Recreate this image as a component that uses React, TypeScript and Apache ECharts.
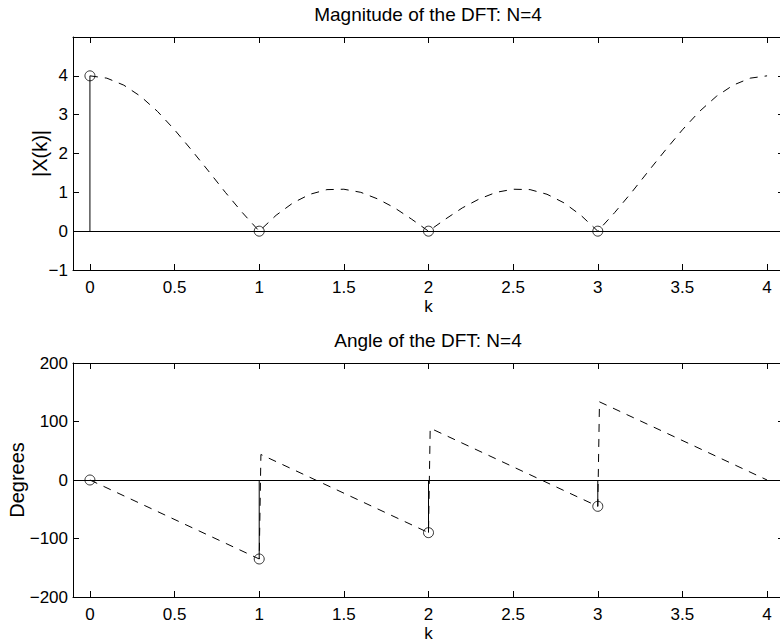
import React, { useEffect, useRef } from "react";
import * as echarts from "echarts";

// Magnitude of the DTFT sampled finely along k
const kFine = [
  0, 0.1, 0.2, 0.3, 0.4, 0.5, 0.6, 0.7, 0.8, 0.9, 1, 1.1, 1.2, 1.3, 1.4, 1.5, 1.6, 1.7, 1.8, 1.9, 2,
  2.1, 2.2, 2.3, 2.4, 2.5, 2.6, 2.7, 2.8, 2.9, 3, 3.1, 3.2, 3.3, 3.4, 3.5, 3.6, 3.7, 3.8, 3.9, 4,
];
const magFine = [
  4, 3.94, 3.76, 3.47, 3.08, 2.61, 2.09, 1.55, 1.0, 0.48, 0, 0.41, 0.73, 0.95, 1.07, 1.08, 1.0, 0.83,
  0.6, 0.31, 0, 0.31, 0.6, 0.83, 1.0, 1.08, 1.07, 0.95, 0.73, 0.41, 0, 0.48, 1.0, 1.55, 2.09, 2.61,
  3.08, 3.47, 3.76, 3.94, 4,
];

// Phase of the DTFT (degrees), piecewise linear with jumps at the integers
const kPhase = [0, 1, 1.01, 2, 2.01, 3, 3.01, 4];
const phaseDeg = [0, -135, 43.6, -90, 88.6, -45, 133.6, 0];

// DFT samples (N = 4)
const kStem = [0, 1, 2, 3];
const magStem = [4, 0, 0, 0];
const angleStem = [0, -135, -90, -45];

// Tick labels
const kTicks = [0, 0.5, 1, 1.5, 2, 2.5, 3, 3.5, 4];
const magTicks = [-1, 0, 1, 2, 3, 4];
const degTicks = [-200, -100, 0, 100, 200];

const FONT = "'Liberation Sans', Arial, Helvetica, sans-serif";
const TICK_FS = 17;
const TITLE_FS = 19;
const YNAME_FS = 20;
const fmt = (v: number) => (v < 0 ? "\u2212" + Math.abs(v) : String(v));

const axisLine = { show: true, onZero: false, lineStyle: { color: "#000", width: 1 } };

function xAxesFor(gridIndex: number) {
  const common = {
    type: "value",
    gridIndex,
    min: -0.1,
    max: 4.1,
    axisLine,
    splitLine: { show: false },
    axisTick: { show: true, inside: true, length: 6, customValues: kTicks, lineStyle: { color: "#000" } },
  };
  return [
    {
      ...common,
      position: "bottom",
      axisLabel: {
        show: true,
        customValues: kTicks,
        formatter: fmt,
        margin: 9,
        color: "#000",
        fontSize: TICK_FS,
        fontFamily: FONT,
      },
      name: "k",
      nameLocation: "middle",
      nameGap: 28,
      nameMoveOverlap: false,
      nameTextStyle: { color: "#000", fontSize: TICK_FS, fontFamily: FONT },
    },
    { ...common, position: "top", axisLabel: { show: false } },
  ];
}

function yAxesFor(gridIndex: number, min: number, max: number, ticks: number[], name: string, nameGap: number) {
  const common = {
    type: "value",
    gridIndex,
    min,
    max,
    axisLine,
    splitLine: { show: false },
    axisTick: { show: true, inside: true, length: 6, customValues: ticks, lineStyle: { color: "#000" } },
  };
  return [
    {
      ...common,
      position: "left",
      axisLabel: {
        show: true,
        customValues: ticks,
        formatter: fmt,
        margin: 5,
        color: "#000",
        fontSize: TICK_FS,
        fontFamily: FONT,
      },
      name,
      nameLocation: "middle",
      nameGap,
      nameMoveOverlap: false,
      nameTextStyle: { color: "#000", fontSize: YNAME_FS, fontFamily: FONT },
    },
    { ...common, position: "right", axisLabel: { show: false } },
  ];
}

function stemSeries(xAxisIndex: number, yAxisIndex: number, values: number[]) {
  return {
    type: "custom",
    xAxisIndex,
    yAxisIndex,
    z: 3,
    data: kStem.map((k, i) => [k, values[i]]),
    renderItem: (_params: any, api: any) => {
      const p0 = api.coord([api.value(0), 0]);
      const p1 = api.coord([api.value(0), api.value(1)]);
      return {
        type: "line",
        shape: { x1: p0[0], y1: p0[1], x2: p1[0], y2: p1[1] },
        style: { stroke: "#000", lineWidth: 1 },
      };
    },
  };
}

function baselineSeries(xAxisIndex: number, yAxisIndex: number) {
  return {
    type: "line",
    xAxisIndex,
    yAxisIndex,
    data: [],
    z: 2,
    markLine: {
      silent: true,
      symbol: "none",
      label: { show: false },
      lineStyle: { color: "#000", width: 1, type: "solid" },
      data: [{ yAxis: 0 }],
    },
  };
}

function dashedSeries(xAxisIndex: number, yAxisIndex: number, xs: number[], ys: number[]) {
  return {
    type: "line",
    xAxisIndex,
    yAxisIndex,
    z: 4,
    showSymbol: false,
    symbol: "none",
    smooth: false,
    data: xs.map((k, i) => [k, ys[i]]),
    lineStyle: { color: "#000", width: 1, type: [8, 7] },
  };
}

function circleSeries(xAxisIndex: number, yAxisIndex: number, values: number[]) {
  return {
    type: "scatter",
    xAxisIndex,
    yAxisIndex,
    z: 5,
    symbol: "circle",
    symbolSize: 10,
    data: kStem.map((k, i) => [k, values[i]]),
    itemStyle: { color: "rgba(0,0,0,0)", borderColor: "#000", borderWidth: 1 },
  };
}

export default function App() {
  const ref = useRef<HTMLDivElement>(null);

  useEffect(() => {
    if (!ref.current) return;
    const chart = echarts.init(ref.current, undefined, { renderer: "svg" });
    chart.setOption({
      animation: false,
      backgroundColor: "#fff",
      textStyle: { fontFamily: FONT },
      grid: [
        { left: 73, top: 37, right: -4, height: 233, containLabel: false, outerBoundsMode: "none" },
        { left: 73, top: 363, right: -4, height: 234, containLabel: false, outerBoundsMode: "none" },
      ],
      xAxis: [...xAxesFor(0), ...xAxesFor(1)],
      yAxis: [
        ...yAxesFor(0, -1, 5, magTicks, "|X(k)|", 23),
        ...yAxesFor(1, -200, 200, degTicks, "Degrees", 46),
      ],
      graphic: [
        {
          type: "text",
          x: 428,
          y: 14,
          style: {
            text: "Magnitude of the DFT: N=4",
            fill: "#000",
            font: `${TITLE_FS}px ${FONT}`,
            textAlign: "center",
            textVerticalAlign: "middle",
          },
        },
        {
          type: "text",
          x: 428,
          y: 340,
          style: {
            text: "Angle of the DFT: N=4",
            fill: "#000",
            font: `${TITLE_FS}px ${FONT}`,
            textAlign: "center",
            textVerticalAlign: "middle",
          },
        },
      ],
      series: [
        baselineSeries(0, 0),
        stemSeries(0, 0, magStem),
        dashedSeries(0, 0, kFine, magFine),
        circleSeries(0, 0, magStem),
        baselineSeries(2, 2),
        stemSeries(2, 2, angleStem),
        dashedSeries(2, 2, kPhase, phaseDeg),
        circleSeries(2, 2, angleStem),
      ],
    });
    return () => chart.dispose();
  }, []);

  return (
    <div
      ref={ref}
      style={{ position: "fixed", left: 0, top: 0, width: 780, height: 642, background: "#fff" }}
    />
  );
}
